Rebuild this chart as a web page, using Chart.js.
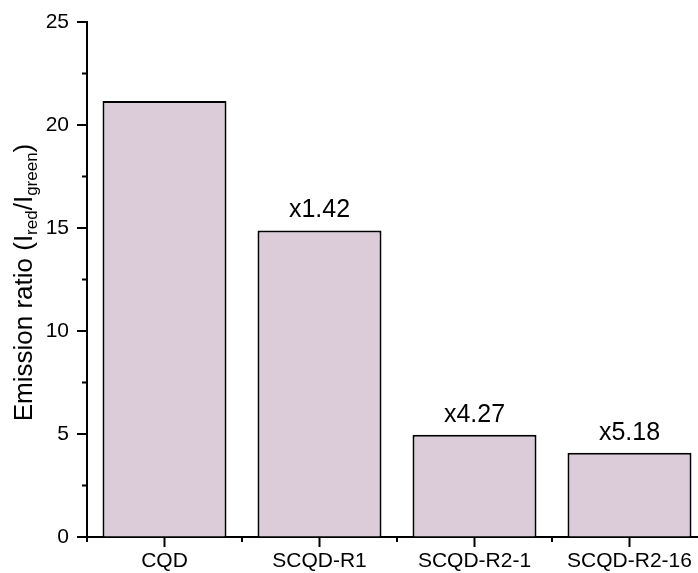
<!DOCTYPE html>
<html>
<head>
<meta charset="utf-8">
<script src="https://cdn.jsdelivr.net/npm/chart.js@4.4.1/dist/chart.umd.min.js"></script>
<style>
  html, body { margin: 0; padding: 0; background: #fff; overflow: hidden; }
  #wrap { position: relative; width: 712px; height: 573px; }
</style>
</head>
<body>
<div id="wrap"><canvas id="c"></canvas></div>
<script>
// valores
const categorias = ['CQD', 'SCQD-R1', 'SCQD-R2-1', 'SCQD-R2-16'];
const razao = [21.17, 14.88, 4.96, 4.09];
const rotulos = ['', 'x1.42', 'x4.27', 'x5.18'];
const yTicks = [0, 5, 10, 15, 20, 25];
const yMinor = [2.5, 7.5, 12.5, 17.5, 22.5];

const FONT = "Arial, 'Liberation Sans', sans-serif";
Chart.defaults.font.family = FONT;
Chart.defaults.color = '#000';

// marcas dos eixos (maiores e menores), desenhadas à mão
const ticksPlugin = {
  id: 'ticks',
  afterDraw(chart) {
    const { ctx, scales: { x, y } } = chart;
    ctx.save();
    ctx.strokeStyle = '#000';
    ctx.lineWidth = 2;
    const left = chart.chartArea.left, bottom = chart.chartArea.bottom;
    yTicks.forEach(v => { const p = y.getPixelForValue(v); ctx.beginPath(); ctx.moveTo(left - 10, p); ctx.lineTo(left, p); ctx.stroke(); });
    yMinor.forEach(v => { const p = y.getPixelForValue(v); ctx.beginPath(); ctx.moveTo(left - 5, p); ctx.lineTo(left, p); ctx.stroke(); });
    const step = x.getPixelForTick(1) - x.getPixelForTick(0);
    categorias.forEach((_, i) => {
      const p = x.getPixelForTick(i);
      ctx.beginPath(); ctx.moveTo(p, bottom); ctx.lineTo(p, bottom + 10); ctx.stroke();
      const q = p - step / 2;
      ctx.beginPath(); ctx.moveTo(q, bottom); ctx.lineTo(q, bottom + 5); ctx.stroke();
    });
    ctx.restore();
  }
};

// rótulos acima das barras
const labelsPlugin = {
  id: 'barLabels',
  afterDatasetsDraw(chart) {
    const { ctx } = chart;
    const meta = chart.getDatasetMeta(0);
    ctx.save();
    ctx.font = '25px ' + FONT;
    ctx.fillStyle = '#000';
    ctx.textAlign = 'center';
    ctx.textBaseline = 'alphabetic';
    meta.data.forEach((bar, i) => {
      if (!rotulos[i]) return;
      ctx.fillText(rotulos[i], bar.x, bar.y - 13);
    });
    ctx.restore();
  }
};

// título do eixo y com subscritos
const yTitlePlugin = {
  id: 'yTitle',
  afterDraw(chart) {
    const { ctx, chartArea } = chart;
    const big = '26px ' + FONT, small = '17px ' + FONT;
    const parts = [
      ['Emission ratio (I', big, 0], ['red', small, 5],
      ['/I', big, 0], ['green', small, 5], [')', big, 0]
    ];
    ctx.save();
    let total = 0;
    parts.forEach(p => { ctx.font = p[1]; total += ctx.measureText(p[0]).width; });
    const cy = (chartArea.top + chartArea.bottom) / 2 + 3;
    ctx.translate(32, cy);
    ctx.rotate(-Math.PI / 2);
    ctx.fillStyle = '#000';
    ctx.textBaseline = 'alphabetic';
    ctx.textAlign = 'left';
    let xx = -total / 2;
    parts.forEach(p => {
      ctx.font = p[1];
      ctx.fillText(p[0], xx, p[2]);
      xx += ctx.measureText(p[0]).width;
    });
    ctx.restore();
  }
};

new Chart(document.getElementById('c'), {
  type: 'bar',
  data: {
    labels: categorias,
    datasets: [{
      data: razao,
      backgroundColor: '#dccbd9',
      borderColor: '#000',
      borderWidth: 2,
      categoryPercentage: 0.8,
      barPercentage: 1
    }]
  },
  options: {
    responsive: true, maintainAspectRatio: false, animation: false,
    layout: { padding: { top: 22, right: 5, left: 0, bottom: 0 } },
    plugins: { legend: { display: false }, tooltip: { enabled: false } },
    scales: {
      x: {
        afterFit(s) { s.height = 36; },
        grid: { drawOnChartArea: false, drawTicks: true, tickLength: 10, color: 'rgba(0,0,0,0)' },
        border: { display: true, color: '#000', width: 2 },
        ticks: { font: { size: 21 }, padding: 2, maxRotation: 0 }
      },
      y: {
        min: 0, max: 25,
        afterFit(s) { s.width = 87; },
        afterBuildTicks(s) { s.ticks = yTicks.map(v => ({ value: v })); },
        grid: { drawOnChartArea: false, drawTicks: true, tickLength: 10, color: 'rgba(0,0,0,0)' },
        border: { display: true, color: '#000', width: 2 },
        ticks: { font: { size: 21 }, padding: 8 }
      }
    }
  },
  plugins: [ticksPlugin, labelsPlugin, yTitlePlugin]
});
</script>
</body>
</html>
